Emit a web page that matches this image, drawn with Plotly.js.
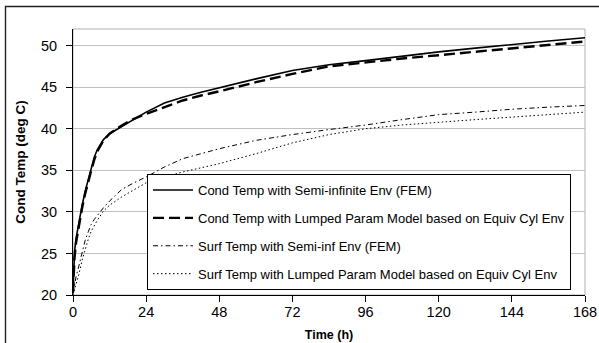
<!DOCTYPE html>
<html>
<head>
<meta charset="utf-8">
<script src="https://cdn.plot.ly/plotly-3.0.1.min.js"></script>
<style>
  html, body { margin: 0; padding: 0; background: #ffffff; }
  #chart { width: 599px; height: 343px; }
</style>
</head>
<body>
<div id="chart"></div>
<script>
// Time (h)
const time = [0, 0.25, 0.5, 1, 2, 3, 4, 5, 6, 7, 8, 10, 12, 16, 20, 24, 30, 36, 42, 48, 60, 72, 84, 96, 108, 120, 132, 144, 156, 168];

// Cond Temp with Semi-infinite Env (FEM)
const condFEM = [20.3, 23.5, 25.2, 26.8, 29.0, 30.8, 32.5, 33.9, 35.2, 36.6, 37.5, 38.7, 39.4, 40.3, 41.1, 42.0, 43.1, 43.8, 44.4, 44.95, 46.0, 47.0, 47.7, 48.2, 48.75, 49.25, 49.7, 50.15, 50.55, 50.95];

// Cond Temp with Lumped Param Model based on Equiv Cyl Env
const condLumped = [20.3, 22.8, 24.5, 26.3, 28.7, 30.5, 32.2, 33.7, 35.0, 36.3, 37.3, 38.6, 39.4, 40.4, 41.2, 41.8, 42.6, 43.4, 44.0, 44.5, 45.6, 46.6, 47.5, 48.0, 48.45, 48.85, 49.25, 49.65, 50.1, 50.5];

// Surf Temp with Semi-inf Env (FEM)
const surfFEM = [20.2, 20.7, 21.2, 22.2, 23.6, 25.2, 26.6, 27.6, 28.5, 29.1, 29.6, 30.5, 31.3, 32.7, 33.5, 34.2, 35.4, 36.4, 37.0, 37.6, 38.6, 39.3, 39.9, 40.45, 41.1, 41.7, 42.0, 42.35, 42.6, 42.8];

// Surf Temp with Lumped Param Model based on Equiv Cyl Env
const surfLumped = [20.0, 20.3, 20.6, 21.2, 22.6, 24.2, 25.6, 26.7, 27.7, 28.4, 29.0, 30.1, 30.8, 31.8, 32.7, 33.5, 34.2, 34.8, 35.3, 35.8, 37.0, 38.3, 39.3, 40.0, 40.45, 40.8, 41.1, 41.4, 41.7, 42.0];

const seriesNames = [
  "Cond Temp with Semi-infinite Env (FEM)",
  "Cond Temp with Lumped Param Model based on Equiv Cyl Env",
  "Surf Temp with Semi-inf Env (FEM)",
  "Surf Temp with Lumped Param Model based on Equiv Cyl Env"
];

const xTicks = [0, 24, 48, 72, 96, 120, 144, 168];
const yTicks = [20, 25, 30, 35, 40, 45, 50];

const FONT = "Arial, 'Liberation Sans', sans-serif";

const styles = [
  {color: "#000000", width: 1.6, dash: "solid"},
  {color: "#000000", width: 2.4, dash: "11px,5px"},
  {color: "#000000", width: 1, dash: "5px,3px,1.5px,3px"},
  {color: "#000000", width: 1, dash: "1.5px,2.5px"}
];

const ys = [condFEM, condLumped, surfFEM, surfLumped];

const traces = ys.map((y, i) => ({
  x: time,
  y: y,
  type: "scatter",
  mode: "lines",
  name: seriesNames[i],
  legendgroup: "g" + i,
  line: styles[i],
  hoverinfo: "skip"
}));

const L = 73, R = 14, T = 29, B = 48;
const W = 599, H = 343;
const pw = W - L - R, ph = H - T - B;

const layout = {
  width: W,
  height: H,
  margin: {l: L, r: R, t: T, b: B, pad: 0},
  paper_bgcolor: "#ffffff",
  plot_bgcolor: "#ffffff",
  font: {family: FONT, size: 13, color: "#000000"},
  showlegend: true,
  legend: {
    x: (147 - L) / pw,
    y: (H - B - 174) / ph,
    xanchor: "left",
    yanchor: "top",
    bgcolor: "#ffffff",
    bordercolor: "#000000",
    borderwidth: 1,
    font: {family: FONT, size: 13, color: "#000000"},
    traceorder: "grouped",
    tracegroupgap: 8,
    itemwidth: 40
  },
  xaxis: {
    range: [0, 168],
    tickmode: "array",
    tickvals: xTicks,
    ticktext: xTicks.map(String),
    ticks: "outside",
    ticklen: 6,
    tickwidth: 1,
    tickcolor: "#000000",
    showline: true,
    linecolor: "#000000",
    linewidth: 1,
    showgrid: false,
    zeroline: false,
    tickfont: {family: FONT, size: 14.5},
    ticklabelstandoff: -2,
    title: {text: "<b>Time (h)</b>", font: {family: FONT, size: 12.5}, standoff: 10},
    automargin: false,
    fixedrange: true
  },
  yaxis: {
    range: [20, 52],
    tickmode: "array",
    tickvals: yTicks,
    ticktext: yTicks.map(String),
    ticks: "outside",
    ticklen: 6,
    tickwidth: 1,
    tickcolor: "#000000",
    showline: true,
    linecolor: "#000000",
    linewidth: 1,
    showgrid: true,
    gridcolor: "#c0c0c0",
    gridwidth: 1,
    zeroline: false,
    tickfont: {family: FONT, size: 14.5},
    ticklabelstandoff: 6,
    title: {text: "<b>Cond Temp (deg C)</b>", font: {family: FONT, size: 13.5}, standoff: 12},
    automargin: false,
    fixedrange: true
  },
  shapes: [
    {
      type: "rect", xref: "paper", yref: "paper",
      x0: 0, x1: 1, y0: 0, y1: 1,
      line: {color: "#b0b0b0", width: 1},
      fillcolor: "rgba(0,0,0,0)",
      layer: "below"
    },
    {
      type: "rect", xref: "paper", yref: "paper",
      x0: (5.5 - L) / pw, x1: (W + 10 - L) / pw,
      y0: (H - B - (H + 10)) / ph, y1: (H - B - 6.5) / ph,
      line: {color: "#222222", width: 1.4},
      fillcolor: "rgba(0,0,0,0)",
      layer: "above"
    }
  ]
};

Plotly.newPlot("chart", traces, layout, {displayModeBar: false, staticPlot: true});
</script>
</body>
</html>
